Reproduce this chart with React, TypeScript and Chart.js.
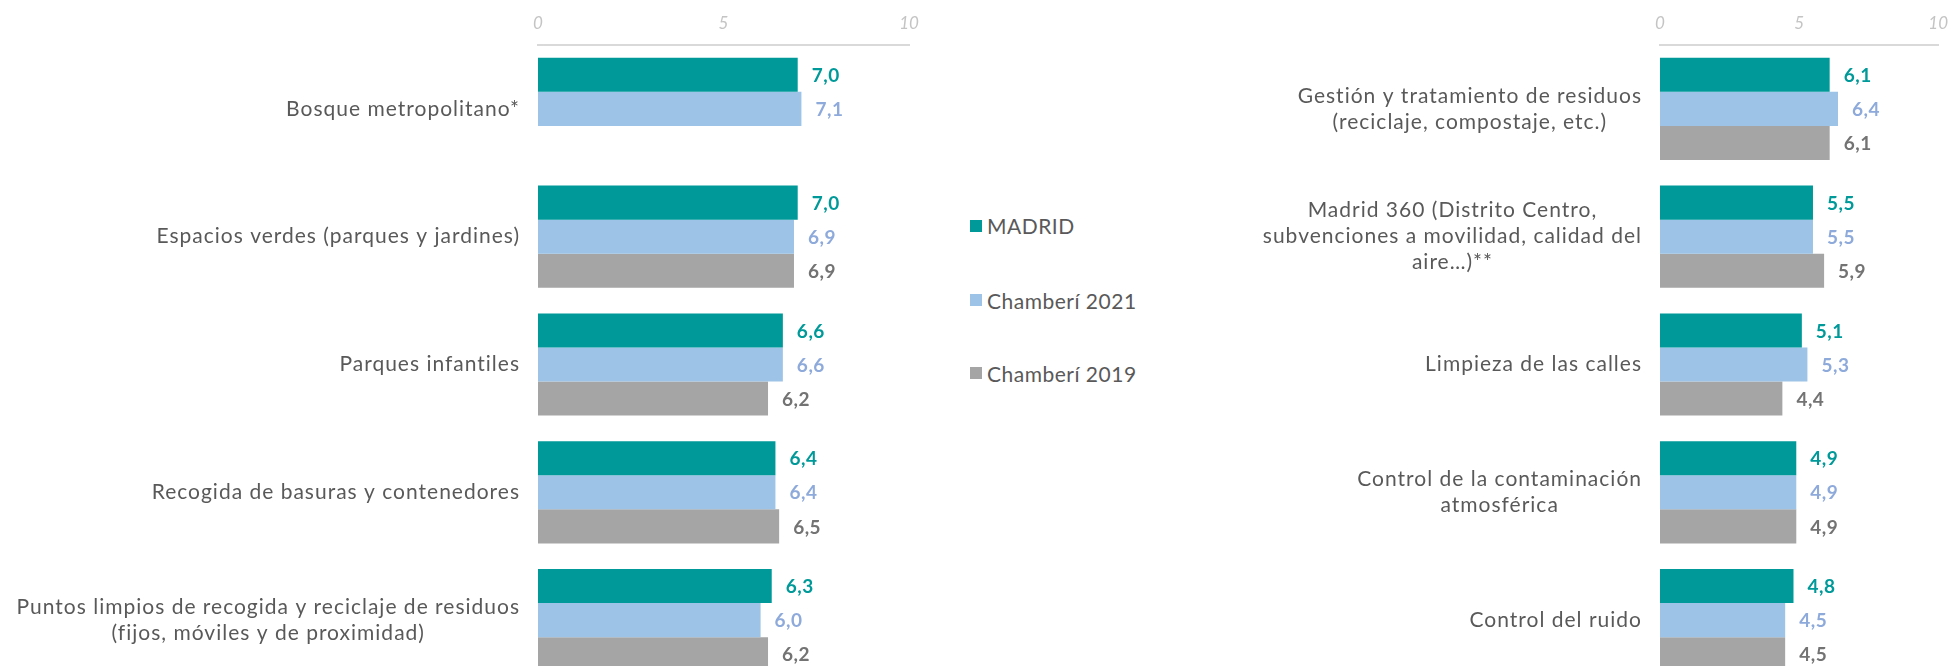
import React, { useEffect, useRef } from "react";
import { Chart, registerables } from "chart.js";

Chart.register(...registerables);

const FONT = "Lato, 'Open Sans', sans-serif";

// ---- Data ----
const seriesNames = ["MADRID", "Chamberí 2021", "Chamberí 2019"];
const barColors = ["#009999", "#9DC3E6", "#A5A5A5"];
const valueColors = ["#009999", "#8EAADB", "#737373"];

const xTicks = [0, 5, 10];

const leftCategories: string[][] = [
  ["Bosque metropolitano*"],
  ["Espacios verdes (parques y jardines)"],
  ["Parques infantiles"],
  ["Recogida de basuras y contenedores"],
  ["Puntos limpios de recogida y reciclaje de residuos", "(fijos, móviles y de proximidad)"],
];
const leftMadrid = [7.0, 7.0, 6.6, 6.4, 6.3];
const leftChamberi2021 = [7.1, 6.9, 6.6, 6.4, 6.0];
const leftChamberi2019 = [null, 6.9, 6.2, 6.5, 6.2];

const rightCategories: string[][] = [
  ["Gestión y tratamiento de residuos", "(reciclaje, compostaje, etc.)"],
  ["Madrid 360 (Distrito Centro,", "subvenciones a movilidad, calidad del", "aire…)**"],
  ["Limpieza de las calles"],
  ["Control de la contaminación", "atmosférica"],
  ["Control del ruido"],
];
const rightMadrid = [6.1, 5.5, 5.1, 4.9, 4.8];
const rightChamberi2021 = [6.4, 5.5, 5.3, 4.9, 4.5];
const rightChamberi2019 = [6.1, 5.9, 4.4, 4.9, 4.5];

const fmt = (v: number) => v.toFixed(1).replace(".", ",");

const categoryLabelPlugin = {
  id: "catLabels",
  afterDraw(chart: any) {
    const ctx = chart.ctx;
    const yScale = chart.scales.y;
    const left = chart.chartArea.left;
    ctx.save();
    ctx.font = `21px ${FONT}`;
    try {
      (ctx as any).letterSpacing = "1px";
    } catch (e) {}
    ctx.fillStyle = "#595959";
    ctx.textAlign = "center";
    ctx.textBaseline = "middle";
    const lh = 26;
    (chart.data.labels as any[]).forEach((lab, i) => {
      const lines: string[] = Array.isArray(lab) ? lab : [lab];
      const w = Math.max(...lines.map((l) => ctx.measureText(l).width));
      const cx = left - 18 - w / 2;
      const cy = yScale.getPixelForValue(i);
      lines.forEach((l, j) => {
        ctx.fillText(l, cx, cy + (j - (lines.length - 1) / 2) * lh);
      });
    });
    ctx.restore();
  },
};

const valueLabelPlugin = {
  id: "valueLabels",
  afterDatasetsDraw(chart: any) {
    const ctx = chart.ctx;
    ctx.save();
    ctx.font = `bold 19px ${FONT}`;
    try {
      (ctx as any).letterSpacing = "0.5px";
    } catch (e) {}
    ctx.textAlign = "left";
    ctx.textBaseline = "middle";
    chart.data.datasets.forEach((ds: any, di: number) => {
      const meta = chart.getDatasetMeta(di);
      ctx.fillStyle = valueColors[di];
      meta.data.forEach((bar: any, i: number) => {
        const v = ds.data[i];
        if (v == null) return;
        ctx.fillText(fmt(v), bar.x + 14, bar.y + 1);
      });
    });
    ctx.restore();
  },
};

function makeConfig(
  labels: string[][],
  series: (number | null)[][],
  padLeft: number,
  padRight: number
): any {
  return {
    type: "bar",
    data: {
      labels,
      datasets: series.map((d, i) => ({
        label: seriesNames[i],
        data: d,
        backgroundColor: barColors[i],
        borderWidth: 0,
        categoryPercentage: 0.8,
        barPercentage: 1.0,
      })),
    },
    options: {
      indexAxis: "y",
      animation: false,
      responsive: false,
      maintainAspectRatio: false,
      events: [],
      layout: { padding: { left: padLeft, right: padRight, top: 0, bottom: 0 } },
      plugins: {
        legend: { display: false },
        tooltip: { enabled: false },
      },
      scales: {
        x: {
          position: "top",
          min: xTicks[0],
          max: xTicks[xTicks.length - 1],
          afterBuildTicks: (scale: any) => {
            scale.ticks = xTicks.map((v) => ({ value: v }));
          },
          ticks: {
            padding: 11,
            color: "#C4C4C4",
            font: { family: FONT, size: 17, style: "italic" },
          },
          grid: { display: false, drawTicks: false },
          border: { display: true, color: "#D9D9D9", width: 2 },
          afterFit: (scale: any) => {
            scale.height = 45;
          },
        },
        y: {
          display: false,
          offset: true,
        },
      },
    },
    plugins: [categoryLabelPlugin, valueLabelPlugin],
  };
}

function BarChart(props: {
  labels: string[][];
  series: (number | null)[][];
  width: number;
  height: number;
  padLeft: number;
  padRight: number;
  left: number;
}) {
  const ref = useRef<HTMLCanvasElement>(null);
  useEffect(() => {
    if (!ref.current) return;
    const chart = new Chart(
      ref.current,
      makeConfig(props.labels, props.series, props.padLeft, props.padRight)
    );
    return () => chart.destroy();
  }, []);
  return (
    <canvas
      ref={ref}
      width={props.width}
      height={props.height}
      style={{
        position: "absolute",
        left: props.left,
        top: 0,
        width: props.width,
        height: props.height,
        display: "block",
      }}
    />
  );
}

const legendTops = [225.7, 300, 373.3];

export default function App() {
  useEffect(() => {
    document.body.style.margin = "0";
  }, []);
  return (
    <div
      style={{
        position: "relative",
        width: 1959,
        height: 666,
        overflow: "hidden",
        background: "#FFFFFF",
        fontFamily: FONT,
      }}
    >
      <BarChart
        labels={leftCategories}
        series={[leftMadrid, leftChamberi2021, leftChamberi2019]}
        width={960}
        height={684}
        padLeft={538}
        padRight={51}
        left={0}
      />
      <BarChart
        labels={rightCategories}
        series={[rightMadrid, rightChamberi2021, rightChamberi2019]}
        width={759}
        height={684}
        padLeft={460}
        padRight={11}
        left={1200}
      />
      {seriesNames.map((name, i) => (
        <div
          key={name}
          style={{
            position: "absolute",
            left: 970,
            top: legendTops[i] - 13,
            height: 26,
            display: "flex",
            alignItems: "center",
            fontSize: 21,
            letterSpacing: "0.5px",
            color: "#595959",
            whiteSpace: "nowrap",
          }}
        >
          <span
            style={{
              display: "inline-block",
              width: 12,
              height: 12,
              background: barColors[i],
              marginRight: 5,
            }}
          />
          <span>{name}</span>
        </div>
      ))}
    </div>
  );
}
